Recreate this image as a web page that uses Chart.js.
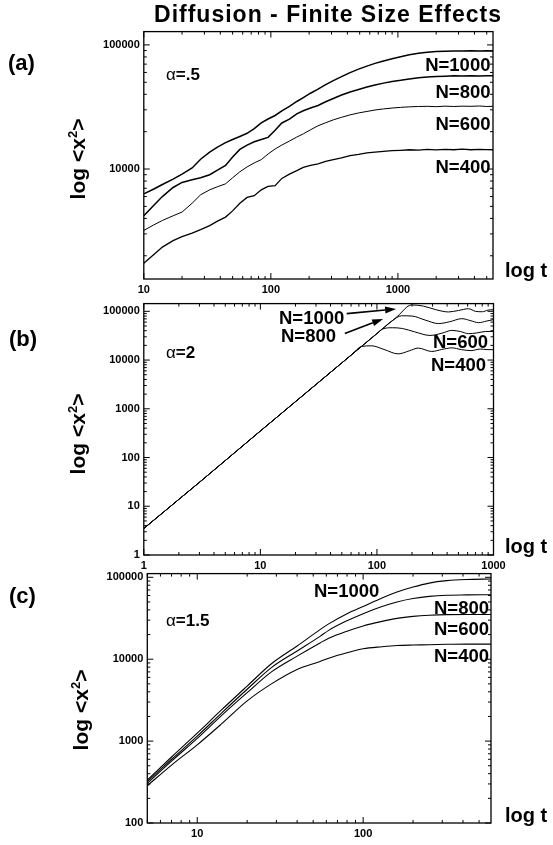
<!DOCTYPE html>
<html>
<head>
<meta charset="utf-8">
<script src="https://cdn.jsdelivr.net/npm/chart.js@4.4.1/dist/chart.umd.min.js"></script>
<style>
  body { margin: 0; background: #fff; width: 553px; height: 845px; position: relative; overflow: hidden;
         font-family: "Liberation Sans", Arial, Helvetica, sans-serif; color: #000; }
  canvas { position: absolute; left: 0; }
  .t { position: absolute; font-weight: bold; white-space: nowrap; line-height: 1; }
  .t sup { font-size: 0.62em; vertical-align: 0.55em; line-height: 0; }
  .g { font-weight: normal; }
</style>
</head>
<body>
<canvas id="chartA" width="553" height="290"></canvas>
<canvas id="chartB" width="553" height="292"></canvas>
<canvas id="chartC" width="553" height="290"></canvas>
<script>
/* Diffusion - Finite Size Effects: <x^2> vs t on log-log axes, three alpha values, N = 400..1000 */

// ---- (a) alpha = .5
const tA = [10, 12, 14, 17, 20, 24, 28, 33, 38, 44, 50, 57, 65, 74, 84, 95, 108, 122, 140, 160,
  180, 205, 235, 270, 310, 360, 420, 490, 570, 660, 770, 900, 1050, 1230, 1450, 1700, 2000, 2350,
  2750, 3200, 3750, 4400, 5000, 5600];
const a1000 = [6300, 6900, 7500, 8300, 9100, 10200, 12000, 13700, 15000, 16300, 17300, 18300, 19400,
  21200, 23500, 25300, 27000, 29400, 32000, 35000, 37600, 40800, 44000, 47800, 51500, 55500, 59800,
  63800, 67500, 71000, 74200, 77300, 80300, 83200, 85500, 87200, 88300, 88900, 89400, 89200, 89700,
  89400, 89800, 89500];
const a800 = [4200, 5100, 6000, 7100, 7800, 8200, 8500, 9000, 9800, 10700, 12500, 14400, 15600, 16600,
  17300, 18000, 20500, 23500, 25200, 27800, 29500, 31000, 32500, 34800, 37000, 39500, 41800, 43800,
  45800, 47500, 49200, 50800, 51800, 53200, 54300, 55200, 55700, 56000, 56300, 56100, 56400, 56200,
  56500, 56400];
const a600 = [3200, 3550, 3850, 4200, 4500, 5300, 6200, 6800, 7200, 7600, 8500, 9500, 10400, 11200,
  11900, 13200, 14500, 15600, 16800, 18100, 19200, 20700, 22300, 23600, 24900, 26100, 27300, 28300,
  29100, 29900, 30500, 31000, 31400, 31700, 31900, 32000, 31800, 32100, 31900, 32100, 32000, 32200,
  31900, 32000];
const a400 = [1740, 2050, 2350, 2650, 2850, 3050, 3250, 3500, 3800, 4100, 4600, 5300, 5900, 6100,
  6800, 7250, 7350, 8400, 9100, 9700, 10300, 10700, 11000, 11500, 11900, 12300, 12800, 13100, 13500,
  13700, 13900, 14050, 14150, 14300, 14200, 14400, 14250, 14400, 14300, 14450, 14300, 14400, 14350,
  14300];

// ---- (b) alpha = 2
const tB1000 = [1, 3, 10, 30, 60, 100, 150, 198, 250, 320, 411, 500, 611, 700, 800, 900, 1000];
const b1000 = [3.5, 31, 350, 3150, 12600, 35000, 78800, 135000, 128000, 108000, 97000, 104000, 113000,
  100000, 98000, 106000, 108000];
const tB800 = [1, 3, 10, 30, 60, 100, 133, 163, 200, 260, 337, 420, 535, 640, 745, 870, 1000];
const b800 = [3.5, 31, 350, 3150, 12600, 35000, 62000, 81000, 80000, 66000, 56000, 61000, 70700,
  64000, 58500, 63000, 67500];
const tB600 = [1, 3, 10, 30, 60, 100, 112, 135, 165, 210, 285, 360, 439, 520, 611, 720, 850, 1000];
const b600 = [3.5, 31, 350, 3150, 12600, 35000, 43500, 46000, 44500, 38000, 32000, 35500, 40600,
  38500, 34800, 36000, 38500, 38700];
const tB400 = [1, 3, 10, 30, 60, 74, 90, 115, 152, 190, 226, 295, 360, 440, 530, 640, 770, 880, 1000];
const b400 = [3.5, 31, 350, 3150, 12600, 19000, 19600, 16500, 13400, 15500, 17600, 15000, 16500,
  17800, 16400, 15600, 16800, 16400, 16300];

// ---- (c) alpha = 1.5
const tC = [5, 7, 10, 14, 20, 28, 40, 55, 62, 80, 100, 130, 160, 200, 250, 320, 420, 590];
const c1000 = [335, 640, 1250, 2400, 4700, 8800, 14500, 23000, 27000, 36000, 44000, 56000, 66000,
  76000, 85000, 91000, 94000, 95500];
const c800 = [320, 600, 1150, 2200, 4300, 7900, 12600, 19000, 22500, 29500, 36000, 44000, 50000,
  55000, 58500, 60500, 61000, 61200];
const c600 = [305, 570, 1080, 2050, 3900, 7000, 10900, 15800, 18000, 22000, 25500, 29000, 31500,
  33300, 34400, 35000, 35100, 35100];
const c400 = [285, 510, 900, 1620, 3100, 5000, 7500, 9400, 10300, 12000, 13400, 14200, 14700,
  14900, 15000, 15200, 15300, 15300];

// labelled decades on each axis
const xLabA = [10, 100, 1000];
const yLabA = [10000, 100000];
const xLabB = [1, 10, 100, 1000];
const yLabB = [1, 10, 100, 1000, 10000, 100000];
const xLabC = [10, 100];
const yLabC = [100, 1000, 10000, 100000];

// arrows in (b), from label to curve, in data units [t, <x^2>]
const arrowFrom = [[55, 89800], [53, 35000]];
const arrowTo = [[146, 112000], [113, 69900]];

const W = 553, PADT = 10, AXH = 30;
Chart.defaults.font.family = "'Liberation Sans', Arial, Helvetica, sans-serif";
Chart.defaults.color = "#000";

function pts(ts, vs) { return ts.map((t, i) => ({ x: t, y: vs[i] })); }

function mant(v) {
  const e = Math.floor(Math.log10(v) + 1e-9);
  const m = v / Math.pow(10, e), r = Math.round(m);
  return Math.abs(m - r) < 1e-6 ? r : 0;
}

// box + inward tick marks on all four sides
const frameTicks = {
  id: "frameTicks",
  afterDraw(chart) {
    const { ctx, chartArea: a, scales: { x, y } } = chart;
    ctx.save();
    ctx.strokeStyle = "#000";
    ctx.lineWidth = 1;
    ctx.beginPath();
    for (const t of x.ticks) {
      const m = mant(t.value); if (!m) continue;
      const p = x.getPixelForValue(t.value);
      if (p < a.left - 0.5 || p > a.right + 0.5) continue;
      const len = m === 1 ? 6 : 3;
      ctx.moveTo(p, a.bottom); ctx.lineTo(p, a.bottom - len);
      ctx.moveTo(p, a.top); ctx.lineTo(p, a.top + len);
    }
    for (const t of y.ticks) {
      const m = mant(t.value); if (!m) continue;
      const p = y.getPixelForValue(t.value);
      if (p < a.top - 0.5 || p > a.bottom + 0.5) continue;
      const len = m === 1 ? 6 : 3;
      ctx.moveTo(a.left, p); ctx.lineTo(a.left + len, p);
      ctx.moveTo(a.right, p); ctx.lineTo(a.right - len, p);
    }
    ctx.stroke();
    ctx.lineWidth = 1.3;
    ctx.strokeRect(a.left, a.top, a.right - a.left, a.bottom - a.top);
    ctx.restore();
  }
};

const arrows = {
  id: "arrows",
  afterDatasetsDraw(chart) {
    const { ctx, scales: { x, y } } = chart;
    ctx.save();
    ctx.strokeStyle = "#000"; ctx.fillStyle = "#000"; ctx.lineWidth = 1.6;
    arrowFrom.forEach((f, i) => {
      const x0 = x.getPixelForValue(f[0]), y0 = y.getPixelForValue(f[1]);
      const x1 = x.getPixelForValue(arrowTo[i][0]), y1 = y.getPixelForValue(arrowTo[i][1]);
      const ang = Math.atan2(y1 - y0, x1 - x0), hl = 11, hw = 3.5;
      const bx = x1 - hl * Math.cos(ang), by = y1 - hl * Math.sin(ang);
      ctx.beginPath(); ctx.moveTo(x0, y0); ctx.lineTo(bx, by); ctx.stroke();
      ctx.beginPath();
      ctx.moveTo(x1, y1);
      ctx.lineTo(bx + hw * Math.sin(ang), by - hw * Math.cos(ang));
      ctx.lineTo(bx - hw * Math.sin(ang), by + hw * Math.cos(ang));
      ctx.closePath(); ctx.fill();
    });
    ctx.restore();
  }
};

function line(data, width, smooth) {
  return {
    data, borderColor: "#000", borderWidth: width, pointRadius: 0, showLine: true, fill: false,
    tension: 0, cubicInterpolationMode: smooth ? "monotone" : "default",
  };
}

function makeChart(id, box, xr, yr, xLab, yLab, datasets, extra) {
  const cv = document.getElementById(id);
  cv.style.top = (box.T - PADT) + "px";
  cv.height = Math.round(box.B - box.T + PADT + AXH);
  const tickFont = { size: 11, weight: "bold" };
  return new Chart(cv, {
    type: "scatter",
    data: { datasets },
    options: {
      responsive: false, animation: false, events: [],
      layout: { padding: { top: PADT, bottom: 0, left: 0, right: W - box.R } },
      plugins: { legend: { display: false }, tooltip: { enabled: false } },
      scales: {
        x: {
          type: "logarithmic", min: xr[0], max: xr[1],
          grid: { display: false, drawTicks: false }, border: { display: false },
          ticks: { autoSkip: false, maxRotation: 0, padding: 4, font: tickFont, color: "#000",
                   callback: v => xLab.includes(v) ? String(v) : "" },
          afterFit: s => { s.height = AXH; },
        },
        y: {
          type: "logarithmic", min: yr[0], max: yr[1],
          grid: { display: false, drawTicks: false }, border: { display: false },
          ticks: { autoSkip: false, padding: 4, font: tickFont, color: "#000",
                   callback: v => yLab.includes(v) ? String(v) : "" },
          afterFit: s => { s.width = box.L; },
        },
      },
    },
    plugins: [frameTicks].concat(extra || []),
  });
}

makeChart("chartA", { L: 143.8, T: 31, R: 493, B: 279 }, [10, 5600], [1300, 128000], xLabA, yLabA, [
  line(pts(tA, a1000), 1.5), line(pts(tA, a800), 1.5), line(pts(tA, a600), 1), line(pts(tA, a400), 1.3),
]);
makeChart("chartB", { L: 143.8, T: 303.3, R: 493.5, B: 555 }, [1, 1000], [1, 144000], xLabB, yLabB, [
  line(pts(tB1000, b1000), 1, true), line(pts(tB800, b800), 1, true),
  line(pts(tB600, b600), 1, true), line(pts(tB400, b400), 1, true),
], [arrows]);
makeChart("chartC", { L: 147.3, T: 573, R: 491, B: 823 }, [5, 590], [100, 111000], xLabC, yLabC, [
  line(pts(tC, c1000), 1.1, true), line(pts(tC, c800), 1.1, true),
  line(pts(tC, c600), 1.1, true), line(pts(tC, c400), 1.1, true),
]);

// ---- text (HTML, positioned by cap centre)
function label(html, x, cy, size, align, extraStyle) {
  const d = document.createElement("div");
  d.className = "t";
  d.innerHTML = html;
  d.style.fontSize = size + "px";
  d.style.top = (cy - 0.49 * size) + "px";
  if (align === "right") d.style.right = (W - x) + "px";
  else if (align === "center") { d.style.left = x + "px"; d.style.transform = "translateX(-50%)"; }
  else d.style.left = x + "px";
  if (extraStyle) Object.assign(d.style, extraStyle);
  document.body.appendChild(d);
}
function yTitle(cx, cy) {
  const d = document.createElement("div");
  d.className = "t";
  d.innerHTML = "log &lt;x<sup>2</sup>&gt;";
  d.style.fontSize = "21px";
  d.style.left = cx + "px"; d.style.top = cy + "px";
  d.style.transform = "translate(-50%,-50%) rotate(-90deg)";
  document.body.appendChild(d);
}

label("Diffusion - Finite Size Effects", 328, 14.5, 23, "center", { letterSpacing: "1px" });

label("(a)", 8, 62.5, 22);
label("(b)", 9, 338.5, 22);
label("(c)", 9, 596, 22);

yTitle(77, 159); yTitle(77, 434); yTitle(80, 710);

label("log t", 505, 270, 20);
label("log t", 505, 546, 20);
label("log t", 505, 815, 20);

label('<span class="g">&alpha;</span>=.5', 166, 74.5, 17);
label('<span class="g">&alpha;</span>=2', 166, 352, 17);
label('<span class="g">&alpha;</span>=1.5', 166, 620, 17);

label("N=1000", 490.5, 65, 18.5, "right");
label("N=800", 490.5, 92.5, 18.5, "right");
label("N=600", 490.5, 124.5, 18.5, "right");
label("N=400", 490.5, 167.5, 18.5, "right");

label("N=1000", 279, 318, 18.5);
label("N=800", 281, 336, 18.5);
label("N=600", 433, 342.5, 18.5);
label("N=400", 431, 365.5, 18.5);

label("N=1000", 314, 591.5, 18.5);
label("N=800", 489, 608.5, 18.5, "right");
label("N=600", 489, 629, 18.5, "right");
label("N=400", 489, 656, 18.5, "right");
</script>
</body>
</html>
